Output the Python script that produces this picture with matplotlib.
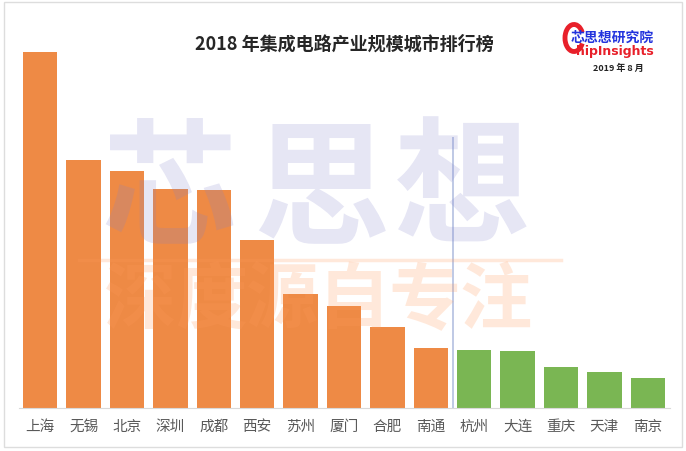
import numpy as np
import matplotlib as mpl
import matplotlib.pyplot as plt
from matplotlib.lines import Line2D
from matplotlib.patches import Rectangle, Arc

plt.rcParams['font.family'] = ['Noto Sans CJK SC', 'DejaVu Sans']

# data (亿元)
cities = ['上海', '无锡', '北京', '深圳', '成都', '西安', '苏州', '厦门', '合肥', '南通',
          '杭州', '大连', '重庆', '天津', '南京']
values = [1450, 1010, 965, 892, 888, 684, 464, 415, 330, 244,
          236, 232, 167, 147, 122]
n_orange = 10

title = '2018 年集成电路产业规模城市排行榜'
orange = '#EE8A45'
green = '#7AB653'

W, H = 686, 452
fig = plt.figure(figsize=(W / 100, H / 100), dpi=100)

# outer frame
fig.patches.append(Rectangle((4 / W, 4 / H), 678 / W, 445 / H, transform=fig.transFigure,
                             fill=False, edgecolor='#DDDDDD', linewidth=1))

ax = fig.add_axes([18.5 / W, 43 / H, 651 / W, 356 / H])
x = np.arange(len(cities))
colors = [orange if i < n_orange else green for i in range(len(cities))]
ax.bar(x, values, width=0.79, color=colors, zorder=2)
ax.vlines(n_orange - 0.5, 0, 1105, color='#B4C0E0', linewidth=1.2, zorder=3)

ax.set_xlim(-0.5, len(cities) - 0.5)
ax.set_ylim(0, max(values))
ax.set_xticks(x)
ax.set_xticklabels(cities, fontsize=10.5, color='#595959')
ax.tick_params(axis='x', length=0, pad=8)
ax.set_yticks([])
for s in ['top', 'right', 'left']:
    ax.spines[s].set_visible(False)
ax.spines['bottom'].set_color('#D9D9D9')
ax.spines['bottom'].set_linewidth(0.8)
ax.patch.set_alpha(0)

# title
fig.text(344 / W, 1 - 44 / H, title, ha='center', va='center', fontsize=13,
         fontweight='bold', color='#262626')

# logo
fig.patches.append(Arc((574 / W, 1 - 39 / H), 18 / W, 27 / H, theta1=45, theta2=315,
                       transform=fig.transFigure, color='#E8202A', linewidth=3.5))
fig.text(612 / W, 1 - 38 / H, '芯思想研究院', ha='center', va='center', fontsize=10,
         fontweight='bold', color='#2233DD')
fig.text(576 / W, 1 - 51 / H, 'hipInsights', ha='left', va='center', fontsize=9,
         fontweight='bold', color='#E8202A', family='DejaVu Sans')
fig.text(618 / W, 1 - 68 / H, '2019 年 8 月', ha='center', va='center', fontsize=6.5,
         fontweight='bold', color='#222222')

# watermark
for ch, cx in zip('芯思想', [169, 321, 462]):
    fig.text(cx / W, 1 - 193 / H, ch, ha='center', va='center', fontsize=98,
             fontweight=900, color=(0.51, 0.51, 0.80), alpha=0.2, zorder=5)
for i, ch in enumerate('深度源自专注'):
    cx = 105 + 71 * (i + 0.5)
    fig.text(cx / W, 1 - 302 / H, ch, ha='center', va='center', fontsize=52,
             fontweight=900, color=(1.0, 0.6, 0.35), alpha=0.22, zorder=5)
fig.lines.append(Line2D([79 / W, 561 / W], [1 - 261 / H, 1 - 261 / H], transform=fig.transFigure,
                        color=(1.0, 0.6, 0.35), alpha=0.22, linewidth=2.5, zorder=5))

fig.savefig('out.png', dpi=100)
